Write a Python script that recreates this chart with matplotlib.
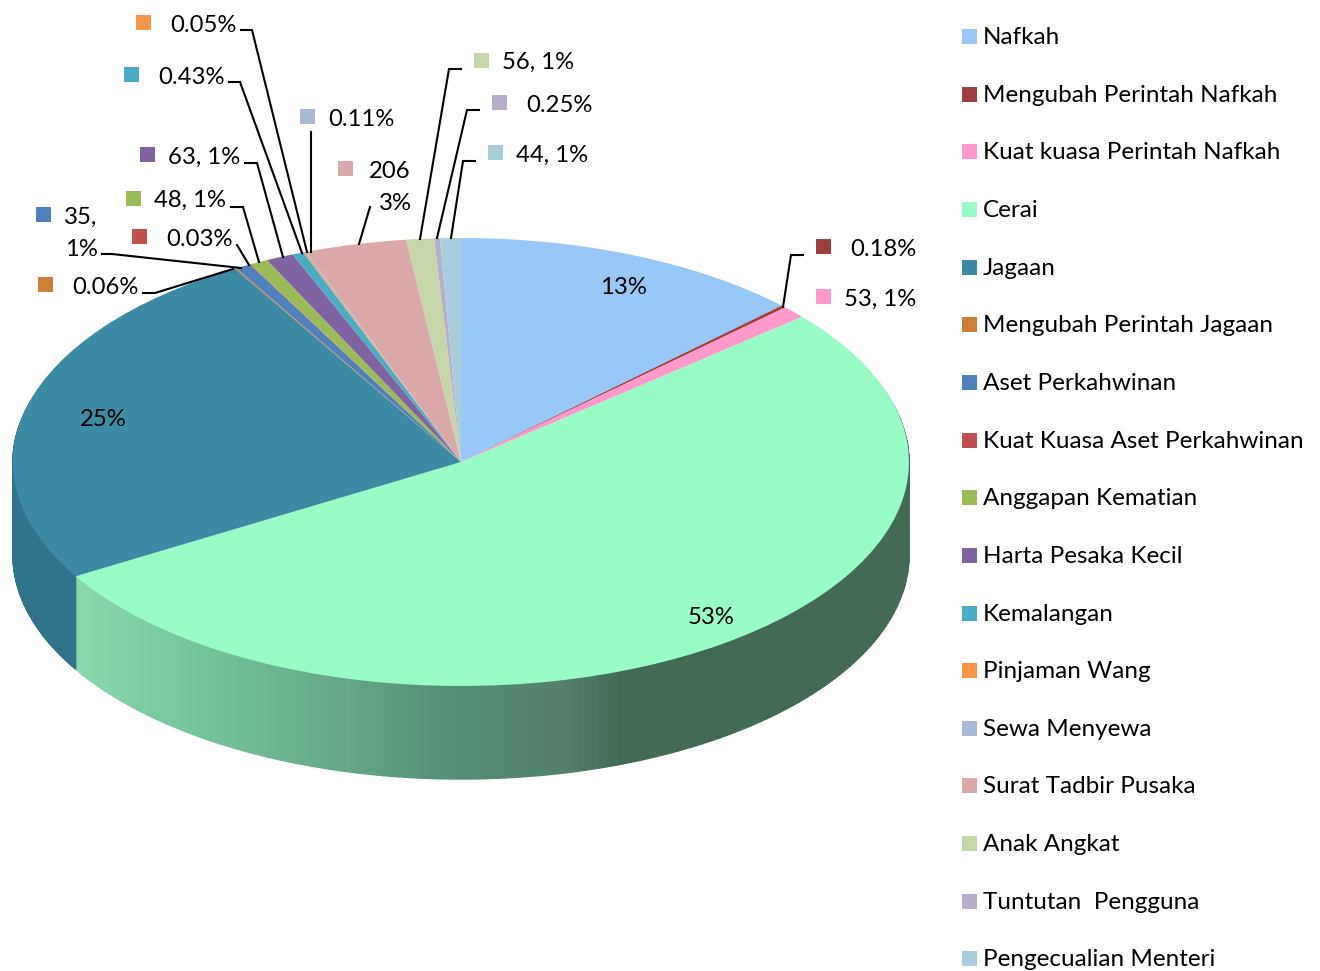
import numpy as np
import matplotlib
matplotlib.use("Agg")
import matplotlib.pyplot as plt
from matplotlib.patches import Rectangle, Polygon
from matplotlib.colors import to_rgb

W, H = 1320, 971
categories = ["Nafkah", "Mengubah Perintah Nafkah", "Kuat kuasa Perintah Nafkah", "Cerai", "Jagaan",
              "Mengubah Perintah Jagaan", "Aset Perkahwinan", "Kuat Kuasa Aset Perkahwinan",
              "Anggapan Kematian", "Harta Pesaka Kecil", "Kemalangan", "Pinjaman Wang", "Sewa Menyewa",
              "Surat Tadbir Pusaka", "Anak Angkat", "Tuntutan  Pengguna", "Pengecualian Menteri"]
shares = [12.7, 0.18, 0.9, 52.7, 25.1, 0.06, 0.55, 0.03, 0.65, 1.0, 0.4, 0.05, 0.06, 3.67, 1.0, 0.2, 0.75]
colors = ["#97C8F8", "#9E3F3D", "#FF99CC", "#99FBC6", "#3C8AA4", "#CD7F3A", "#4F81BD", "#C0504D",
          "#9BBB59", "#8064A2", "#4BACC6", "#F79646", "#AAB9D8", "#DAA8A8", "#C6D6A8", "#B8AECB", "#A8CEDC"]
legend_y = [36, 94, 151, 209, 267, 324, 382, 440, 497, 555, 613, 670, 728, 785, 843, 901, 958]

# label: category index, text lines (text, x, y), marker x/y (top-left), leader polyline
outer_labels = [
    (11, [("0.05%", 170, 23)], (136, 15), [(241, 30), (252, 30), (307, 252)]),
    (10, [("0.43%", 158, 75)], (124, 67), [(229, 82), (240, 82), (302, 253)]),
    (12, [("0.11%", 328, 117)], (300, 109), [(311, 132), (311, 252)]),
    (9, [("63, 1%", 168, 155)], (140, 147), [(245, 163), (257, 163), (283, 257)]),
    (8, [("48, 1%", 154, 198.5)], (126, 191), [(231, 207), (243, 207), (259, 262)]),
    (7, [("0.03%", 166, 237)], (132, 229), [(237, 245), (249, 265)]),
    (6, [("35,", 64, 215.5), ("1%", 65, 248)], (36, 207), [(102, 254), (112, 254), (241, 268)]),
    (5, [("0.06%", 72, 285)], (38, 277), [(143, 293), (155, 293), (233, 269)]),
    (13, [("206", 369, 169), ("3%", 379, 202)], (338, 161), [(370, 207), (359, 244)]),
    (14, [("56, 1%", 502, 60.5)], (474, 53), [(461, 69), (449, 69), (420, 239)]),
    (15, [("0.25%", 526, 103)], (492, 95), [(479, 110), (467, 110), (437, 238)]),
    (16, [("44, 1%", 516, 153)], (488, 145), [(475, 161), (463, 161), (451, 238)]),
    (1, [("0.18%", 850, 247)], (816, 239), [(803, 255), (791, 255), (783, 307)]),
    (2, [("53, 1%", 844, 297)], (816, 289), None),
]
inner_labels = [("13%", 600, 285), ("53%", 688, 615), ("25%", 80, 417)]

cx, cy, rx, ry, depth = 461, 462, 448, 224, 93
FONT = "Lato"
FS = 17.2
FS_LEG = 17.5

fig = plt.figure(figsize=(W / 100, H / 100), dpi=100, facecolor="white")
base = fig.add_axes([0, 0, 1, 1], zorder=0)
base.set_xlim(0, W); base.set_ylim(H, 0); base.axis("off")

# side walls derived from the same shares
pos = np.r_[0, np.cumsum(shares)] / sum(shares) * 2 * np.pi
grad_x = [74, 200, 320, 450, 560, 620, 910]
grad_c = np.array([to_rgb(c) for c in ["#8AD8AE", "#74C49C", "#68AC8B", "#558F76", "#55816D", "#426A55", "#426A55"]])

def strip_color(i, x):
    if i == 3:
        return tuple(np.interp(x, grad_x, grad_c[:, k]) for k in range(3))
    return "#2F7489"

for i in (3, 4):
    ang = np.linspace(pos[i], pos[i + 1], 220)
    for t0, t1 in zip(ang[:-1], ang[1:]):
        x0, x1 = cx + rx * np.sin(t0), cx + rx * np.sin(t1)
        y0, y1 = cy - ry * np.cos(t0), cy - ry * np.cos(t1)
        # keep each strip's top edge just inside the disc so no outline shows around it
        top0, top1 = y0 + 6 * np.cos(t0), y1 + 6 * np.cos(t1)
        c = strip_color(i, (x0 + x1) / 2)
        base.add_patch(Polygon([(x0, top0), (x1, top1), (x1, y1 + depth), (x0, y0 + depth)],
                               closed=True, fc=c, ec=c, lw=1.0))

pie_ax = fig.add_axes([(cx - rx) / W, 1 - (cy + ry) / H, 2 * rx / W, 2 * ry / H], zorder=1)
pie_ax.pie(shares, colors=colors, startangle=90, counterclock=False, radius=1,
           wedgeprops=dict(linewidth=0))
pie_ax.set_aspect("auto")
pie_ax.set_xlim(-1, 1); pie_ax.set_ylim(-1, 1)
pie_ax.patch.set_alpha(0)

over = fig.add_axes([0, 0, 1, 1], zorder=2)
over.set_xlim(0, W); over.set_ylim(H, 0); over.axis("off"); over.patch.set_alpha(0)

def txt(s, x, y, fs=FS):
    over.text(x, y, s, family=FONT, fontsize=fs, color="black", ha="left", va="center_baseline")

for idx, lines, (mx, my), leader in outer_labels:
    over.add_patch(Rectangle((mx, my), 15, 15, fc=colors[idx], ec="none"))
    for s, x, y in lines:
        txt(s, x, y)
    if leader:
        over.plot(*zip(*leader), color="black", lw=1.5, solid_joinstyle="miter")
for s, x, y in inner_labels:
    txt(s, x, y)

for name, col, y in zip(categories, colors, legend_y):
    over.add_patch(Rectangle((962, y - 7), 15, 15, fc=col, ec="none"))
    txt(name, 983, y - 0.7, FS_LEG)

fig.savefig("out.png", dpi=100, facecolor="white")
